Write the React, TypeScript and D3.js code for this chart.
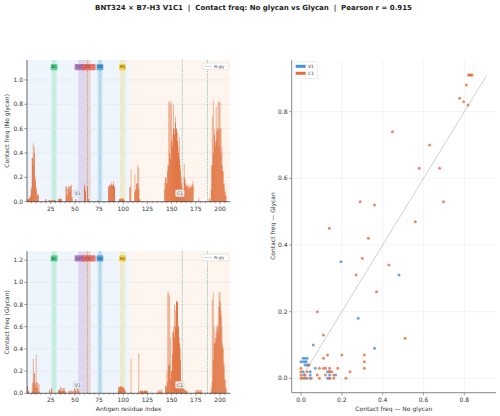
import React from "react";
import * as d3 from "d3";

const W = 500;
const H = 416;
const FONT = "DejaVu Sans, sans-serif";

// per residue: [residue, contact freq (light), stable contact (dark)]
const noGlycanBars: [number, number, number][] = [
  [1, .02, .02], [2, .02, .02], [3, .03, .03], [4, .05, .04], [5, .12, .1], [6, .36, .36], [7, .48, .3],
  [8, .45, .4], [9, .2, .18], [10, .12, .1], [11, .06, .05], [12, .06, .05],
  [20, .02, .02],
  [23, .01, .01], [24, .01, .01], [25, .01, .01], [26, .01, .01], [27, .01, .01], [28, .01, .01], [29, .01, .01], [30, .01, .01],
  [33, .02, .02], [34, .03, .02], [35, .025, .02], [36, .02, .02],
  [41, .13, .12], [42, .05, .05], [43, .12, .1], [44, .13, .12], [45, .1, .08], [46, .14, .13], [47, .04, .03],
  [51, .02, .02],
  [60, .14, .13], [61, .1, .08], [63, .13, .12], [64, .02, .02],
  [74, .01, .01],
  [85, .13, .12], [86, .14, .13], [87, .14, .13], [88, .16, .14], [89, .14, .13], [90, .17, .14], [91, .13, .12],
  [96, .02, .02], [97, .03, .02], [98, .02, .02], [99, .03, .03], [100, .02, .02], [101, .02, .01],
  [107, .12, .12], [108, .27, .01],
  [112, .23, .08], [113, .1, .1], [114, .15, .15], [115, .3, .14], [116, .28, .1], [117, .02, .02],
  [143, .16, .1], [144, .2, .2], [145, .15, .15], [146, .3, .25], [147, .82, .3], [148, .83, .4], [149, .8, .35],
  [150, .82, .5], [151, .55, .45], [152, .8, .6], [153, .6, .55], [154, .7, .65], [155, .6, .6], [156, .57, .5],
  [157, .45, .4], [158, .53, .35], [159, .3, .25], [160, .2, .15], [161, .12, .1], [162, .1, .08], [163, .31, .2],
  [164, .18, .15], [165, .13, .12], [166, .15, .13], [167, .12, .1], [168, .14, .12], [169, .12, .1], [170, .14, .12],
  [171, .13, .12], [172, .17, .14],
  [178, .03, .01], [189, .03, .02],
  [191, .3, .1], [192, .7, .3], [193, .83, .4], [194, .6, .55], [195, .5, .45], [196, .78, .5], [197, .6, .58],
  [198, .82, .6], [199, .82, .45], [200, .82, .6], [201, .6, .4], [202, .45, .3], [203, .25, .25], [204, .15, .15],
  [205, .1, .08], [206, .05, .05],
];

const glycanBars: [number, number, number][] = [
  [1, .06, .06], [2, .02, .02],
  [6, .09, .02], [7, .31, .1], [8, .18, .18], [9, .08, .05], [10, .35, .1], [11, .1, .05], [12, .09, .02], [13, .08, .01],
  [24, .04, .02], [26, .05, .04],
  [33, .03, .02], [34, .04, .03], [35, .06, .02], [36, .05, .02], [37, .04, .02], [38, .05, .02], [39, .05, .03], [40, .02, .01],
  [44, .02, .02], [46, .03, .02], [48, .02, .02], [50, .05, .05], [51, .03, .02], [53, .05, .04], [54, .02, .02],
  [95, .06, .03], [96, .06, .05], [97, .06, .06], [98, .06, .06], [99, .06, .05], [100, .06, .05], [101, .04, .04], [102, .02, .02],
  [108, .31, .01], [116, .36, .02],
  [118, .03, .02], [119, .02, .02], [120, .03, .02], [121, .02, .01], [122, .03, .02], [123, .02, .02], [124, .03, .02], [125, .02, .01],
  [136, .03, .01], [137, .03, .01], [138, .03, .01], [139, .03, .01], [140, .03, .01],
  [144, .07, .07], [145, .2, .05], [146, .91, .1], [147, .91, .25], [148, .88, .26], [149, .5, .12], [150, .2, .2],
  [151, .55, .35], [152, .6, .55], [153, .8, .5], [154, .75, .6], [155, .83, .83], [156, .82, .82], [157, .6, .6],
  [158, .5, .45], [159, .4, .3], [160, .12, .1], [161, .08, .05], [162, .05, .04], [163, .04, .03], [164, .03, .02],
  [165, .03, .02], [166, .02, .01],
  [175, .03, .01], [176, .03, .01], [177, .03, .01], [178, .03, .01], [179, .03, .01], [180, .03, .01], [181, .03, .01],
  [191, .05, .02], [192, .84, .1], [193, .91, .3], [194, .6, .45], [195, .5, .45], [196, .55, .5], [197, .62, .6],
  [198, .6, .55], [199, .91, .78], [200, .91, .83], [201, .75, .7], [202, .6, .45], [203, .42, .4], [204, .28, .25],
  [205, .13, .12], [206, .05, .05],
];

const domains = [
  { name: "V1", start: 0.5, end: 106.5, bg: "#eef5fd", box: "#e3ecf5", mid: 53 },
  { name: "C1", start: 106.5, end: 210.5, bg: "#fef5ee", box: "#f1e6de", mid: 158.5 },
];

// label offset keeps the two overlapping loop tags readable
const strands = [
  { name: "BC", start: 26, end: 31, color: "#2ecc71", shift: 0 },
  { name: "CC'", start: 53.5, end: 60.5, color: "#9b59b6", shift: -2.5 },
  { name: "C'C''", start: 60.5, end: 66.3, color: "#e74c3c", shift: 1 },
  { name: "DE", start: 73.5, end: 78.3, color: "#3498db", shift: 0 },
  { name: "FG", start: 96.6, end: 101.8, color: "#f1c40f", shift: 0 },
];

const nglySites = [63, 76, 161, 187];

// scatter: [no glycan, glycan]
const v1Points: [number, number][] = [
  [0.196, 0.35], [0.48, 0.31], [0.28, 0.18], [0.36, 0.09], [0.06, 0.10],
  [0.01, 0.06], [0.02, 0.06], [0.03, 0.06], [0.0, 0.05], [0.01, 0.05], [0.02, 0.05], [0.025, 0.05],
  [0.02, 0.04], [0.03, 0.04], [0.035, 0.04], [0.07, 0.03], [0.045, 0.02], [0.045, 0.01], [0.045, 0.0],
  [0.01, 0.02], [0.015, 0.01], [0.02, 0.0], [0.13, 0.02], [0.14, 0.02], [0.14, 0.01], [0.17, 0.01],
  [0.13, 0.0], [0.14, 0.0],
];

const c1Points: [number, number][] = [
  [0.82, 0.91], [0.826, 0.91], [0.832, 0.91], [0.838, 0.91], [0.81, 0.88], [0.777, 0.84], [0.797, 0.83], [0.818, 0.82],
  [0.448, 0.74], [0.63, 0.70], [0.579, 0.63], [0.679, 0.63], [0.29, 0.53], [0.36, 0.52], [0.698, 0.53],
  [0.56, 0.47], [0.139, 0.45], [0.33, 0.42], [0.30, 0.36], [0.43, 0.34], [0.27, 0.31], [0.37, 0.26],
  [0.08, 0.20], [0.11, 0.13], [0.51, 0.12],
  [0.13, 0.07], [0.20, 0.07], [0.31, 0.07], [0.11, 0.06], [0.31, 0.05], [0.31, 0.03], [0.18, 0.03],
  [0.24, 0.02], [0.22, 0.0],
  [0.0, 0.03], [0.0, 0.02], [0.0, 0.01], [0.0, 0.0], [0.01, 0.0], [0.02, 0.01], [0.03, 0.0], [0.04, 0.04],
  [0.05, 0.0], [0.03, 0.02], [0.08, 0.01], [0.09, 0.0], [0.09, 0.03], [0.12, 0.03], [0.14, 0.03],
  [0.14, 0.02], [0.15, 0.02], [0.14, 0.0], [0.16, 0.0], [0.12, 0.01], [0.16, 0.01], [0.11, 0.03],
];

const pearsonR = 0.915;
const barColor = "#e0703c";
const v1Color = "#4a90d9";
const c1Color = "#e07040";
const nglyColor = "#5aaaa0";

const xBar = d3.scaleLinear().domain([0.5, 210.5]).range([27, 230.2]);
const xBarTicks = [25, 50, 75, 100, 125, 150, 175, 200];

function BarPanel({ top, bottom, yMax, yTicks, bars, ylabel, xlabel }: any) {
  const y = d3.scaleLinear().domain([0, yMax]).range([bottom, top]);
  const bw = (xBar(1) - xBar(0)) * 0.95;
  const [x0, x1] = xBar.range();
  const labelY = y(yMax * 0.95);
  const domY = y(yMax * 0.06);
  return (
    <g>
      {domains.map(d => (
        <rect key={d.name} x={xBar(d.start)} y={top} width={xBar(d.end) - xBar(d.start)} height={bottom - top} fill={d.bg} />
      ))}
      {strands.map(s => (
        <rect key={s.name} x={xBar(s.start)} y={top} width={xBar(s.end) - xBar(s.start)} height={bottom - top} fill={s.color} opacity={0.2} />
      ))}
      {yTicks.map((t: number) => (
        <line key={t} x1={x0} x2={x1} y1={y(t)} y2={y(t)} stroke="#e4e4e4" strokeWidth={0.6} />
      ))}
      {bars.map(([r, l]: number[]) => (
        <rect key={"l" + r} x={xBar(r) - bw / 2} y={y(l)} width={bw} height={y(0) - y(l)} fill={barColor} opacity={0.55} />
      ))}
      {bars.map(([r, , dk]: number[]) => (
        <rect key={"d" + r} x={xBar(r) - bw / 2} y={y(dk)} width={bw} height={y(0) - y(dk)} fill={barColor} opacity={0.95} />
      ))}
      {nglySites.map(s => (
        <line key={s} x1={xBar(s)} x2={xBar(s)} y1={top} y2={bottom} stroke={nglyColor} strokeWidth={0.8} strokeDasharray="1,1.2" />
      ))}
      {strands.map(s => {
        const cx = xBar((s.start + s.end) / 2) + s.shift;
        const w = s.name.length * 2.2 + 2.5;
        return (
          <g key={s.name}>
            <rect x={cx - w / 2} y={labelY - 3.2} width={w} height={6.4} rx={1.2} fill={s.color} opacity={0.75} />
            <text x={cx} y={labelY + 1.4} fontSize={3.8} textAnchor="middle" fill="#333" fontFamily={FONT}>{s.name}</text>
          </g>
        );
      })}
      {domains.map(d => (
        <g key={d.name}>
          <rect x={xBar(d.mid) - 4.5} y={domY - 3.5} width={9} height={7} rx={1.2} fill={d.box} stroke="#d0d0d0" strokeWidth={0.3} />
          <text x={xBar(d.mid)} y={domY + 1.8} fontSize={4.8} textAnchor="middle" fill="#667" fontFamily={FONT}>{d.name}</text>
        </g>
      ))}
      <g>
        <rect x={202.7} y={top + 3} width={26} height={6.5} rx={1} fill="#fff" stroke="#ccc" strokeWidth={0.4} />
        <line x1={204.5} x2={212} y1={top + 6.2} y2={top + 6.2} stroke={nglyColor} strokeWidth={0.8} strokeDasharray="1,1" />
        <text x={214} y={top + 7.7} fontSize={4} fill="#444" fontFamily={FONT}>N-gly</text>
      </g>
      <line x1={x0} x2={x0} y1={top} y2={bottom} stroke="#444" strokeWidth={0.8} />
      <line x1={x0} x2={x1} y1={bottom} y2={bottom} stroke="#444" strokeWidth={0.8} />
      {yTicks.map((t: number) => (
        <g key={t}>
          <line x1={x0 - 2.5} x2={x0} y1={y(t)} y2={y(t)} stroke="#444" strokeWidth={0.6} />
          <text x={x0 - 4} y={y(t) + 2} fontSize={6} textAnchor="end" fill="#333" fontFamily={FONT}>{t.toFixed(1)}</text>
        </g>
      ))}
      {d3.range(5, 210, 5).map(t => (
        <line key={t} x1={xBar(t)} x2={xBar(t)} y1={bottom} y2={bottom + (t % 25 === 0 ? 2.5 : 1.5)} stroke="#444" strokeWidth={0.5} />
      ))}
      {xBarTicks.map(t => (
        <text key={t} x={xBar(t)} y={bottom + 9} fontSize={6} textAnchor="middle" fill="#333" fontFamily={FONT}>{t}</text>
      ))}
      <text transform={`translate(8.5,${(top + bottom) / 2}) rotate(-90)`} fontSize={6} textAnchor="middle" fill="#333" fontFamily={FONT}>{ylabel}</text>
      {xlabel && (
        <text x={(x0 + x1) / 2} y={bottom + 17.5} fontSize={6} textAnchor="middle" fill="#333" fontFamily={FONT}>{xlabel}</text>
      )}
    </g>
  );
}

function Scatter() {
  const x = d3.scaleLinear().domain([-0.0455, 0.955]).range([291.7, 496]);
  const y = d3.scaleLinear().domain([-0.043, 0.955]).range([392.7, 60]);
  const ticks = [0, 0.2, 0.4, 0.6, 0.8];
  const maxV = d3.max([...v1Points, ...c1Points], p => Math.max(p[0], p[1])) as number;
  return (
    <g>
      {ticks.map(t => (
        <g key={t}>
          <line x1={x(t)} x2={x(t)} y1={60} y2={392.7} stroke="#ececec" strokeWidth={0.6} />
          <line x1={291.7} x2={496} y1={y(t)} y2={y(t)} stroke="#ececec" strokeWidth={0.6} />
        </g>
      ))}
      <line x1={x(0)} y1={y(0)} x2={x(maxV)} y2={y(maxV)} stroke="#b0b0b0" strokeWidth={0.6} />
      {v1Points.map((p, i) => (
        <circle key={"v" + i} cx={x(p[0])} cy={y(p[1])} r={1.5} fill={v1Color} opacity={0.8} />
      ))}
      {c1Points.map((p, i) => (
        <circle key={"c" + i} cx={x(p[0])} cy={y(p[1])} r={1.5} fill={c1Color} opacity={0.8} />
      ))}
      <line x1={291.7} x2={291.7} y1={60} y2={392.7} stroke="#888" strokeWidth={1} />
      <line x1={291.7} x2={496} y1={392.7} y2={392.7} stroke="#888" strokeWidth={1} />
      {ticks.map(t => (
        <g key={"t" + t}>
          <line x1={289} x2={291.7} y1={y(t)} y2={y(t)} stroke="#666" strokeWidth={0.6} />
          <text x={287.5} y={y(t) + 2} fontSize={6} textAnchor="end" fill="#333" fontFamily={FONT}>{t.toFixed(1)}</text>
          <line x1={x(t)} x2={x(t)} y1={392.7} y2={395.4} stroke="#666" strokeWidth={0.6} />
          <text x={x(t)} y={402} fontSize={6} textAnchor="middle" fill="#333" fontFamily={FONT}>{t.toFixed(1)}</text>
        </g>
      ))}
      <text x={393.8} y={410.5} fontSize={6} textAnchor="middle" fill="#333" fontFamily={FONT}>Contact freq — No glycan</text>
      <text transform="translate(274.5,226) rotate(-90)" fontSize={6} textAnchor="middle" fill="#333" fontFamily={FONT}>Contact freq — Glycan</text>
      <g>
        <rect x={294.3} y={61.7} width={23.4} height={16.6} rx={1.2} fill="#fff" stroke="#ccc" strokeWidth={0.4} opacity={0.9} />
        <rect x={295.7} y={64.8} width={10} height={3} fill={v1Color} />
        <text x={308} y={67.8} fontSize={4.5} fill="#333" fontFamily={FONT}>V1</text>
        <rect x={295.7} y={71.8} width={10} height={3} fill={c1Color} />
        <text x={308} y={74.8} fontSize={4.5} fill="#333" fontFamily={FONT}>C1</text>
      </g>
    </g>
  );
}

export default function App() {
  return (
    <svg width={W} height={H} style={{ position: "absolute", left: 0, top: 0, background: "#fff" }}>
      <text x={253.5} y={10} fontSize={7} fontWeight="bold" textAnchor="middle" fill="#222" fontFamily={FONT} style={{ whiteSpace: "pre" }}>
        {`BNT324 × B7-H3 V1C1  |  Contact freq: No glycan vs Glycan  |  Pearson r = ${pearsonR.toFixed(3)}`}
      </text>
      <BarPanel top={60} bottom={201.7} yMax={1.164} yTicks={[0, 0.2, 0.4, 0.6, 0.8, 1.0]} bars={noGlycanBars} ylabel="Contact freq (No glycan)" />
      <BarPanel top={251.3} bottom={393.3} yMax={1.28} yTicks={[0, 0.2, 0.4, 0.6, 0.8, 1.0, 1.2]} bars={glycanBars} ylabel="Contact freq (Glycan)" xlabel="Antigen residue index" />
      <Scatter />
    </svg>
  );
}
